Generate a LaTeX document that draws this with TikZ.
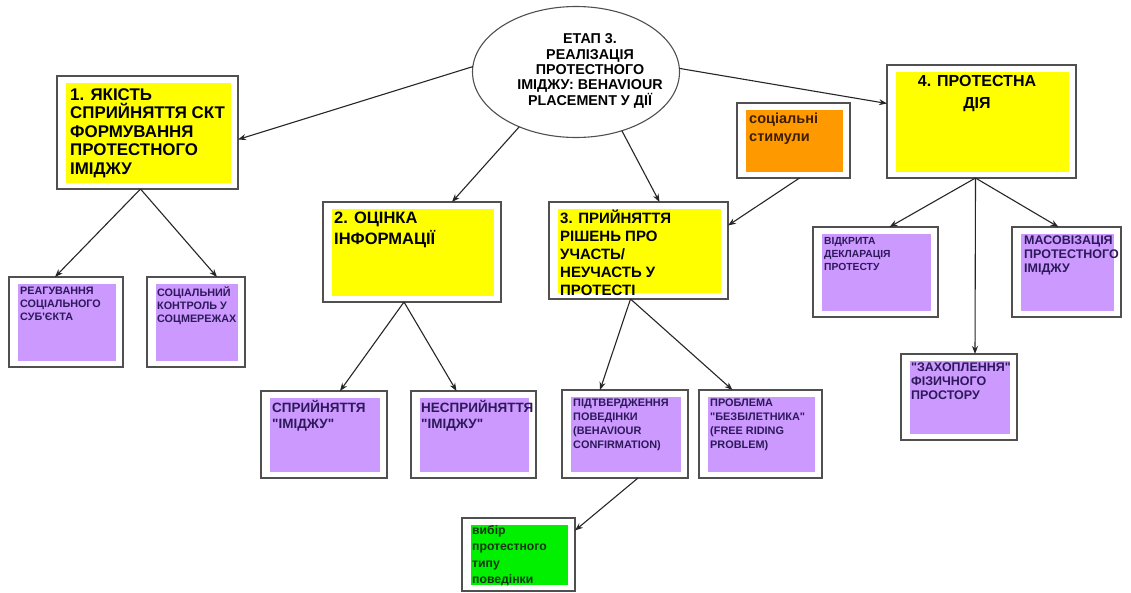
\documentclass[tikz,border=0pt]{standalone}
\usepackage{fontspec}
\setmainfont{Liberation Sans}[Ligatures=TeXOff]
\usetikzlibrary{shapes.geometric,arrows.meta,calc}
\definecolor{boxgray}{RGB}{80,80,80}
\definecolor{yel}{RGB}{255,255,0}
\definecolor{lav}{RGB}{204,153,255}
\definecolor{org}{RGB}{255,153,0}
\definecolor{grn}{RGB}{0,240,0}
\definecolor{ptxt}{RGB}{45,25,90}
\definecolor{otxt}{RGB}{60,30,0}
\definecolor{gtxt}{RGB}{20,50,20}
\newcommand\qq{\char34\relax}
\newcommand\ap{\char39\relax}
\tikzset{
  outerbox/.style={draw=boxgray, line width=1.4pt, fill=white, inner sep=0pt, outer sep=0pt, rectangle},
  txt/.style={anchor=north west, align=left, inner sep=0pt},
  t16/.style={font=\fontsize{16.9}{18.6}\selectfont\bfseries},
  t165/.style={font=\fontsize{16.5}{21}\selectfont\bfseries},
  t15/.style={font=\fontsize{15}{18}\selectfont\bfseries},
  tfour/.style={font=\fontsize{16}{22}\selectfont\bfseries, anchor=north, align=center},
  tstim/.style={font=\fontsize{14.5}{17.5}\selectfont\bfseries, text=otxt},
  tgrn/.style={font=\fontsize{12.2}{16.5}\selectfont\bfseries, text=gtxt},
  tp11/.style={font=\fontsize{10.8}{13}\selectfont\bfseries, text=ptxt},
  tp12/.style={font=\fontsize{12.5}{13.8}\selectfont\bfseries, text=ptxt},
  tp13/.style={font=\fontsize{13.5}{16}\selectfont\bfseries, text=ptxt},
  tp10/.style={font=\fontsize{10.3}{13}\selectfont\bfseries, text=ptxt},
  tq/.style={font=\fontsize{10.9}{14}\selectfont\bfseries, text=ptxt},
  arr/.style={draw=black!85, line width=1.1pt, -{Stealth[length=8pt,width=6pt]}},
  ell/.style={ellipse, draw=boxgray, line width=1.1pt, fill=white, minimum width=207pt, minimum height=131pt, inner sep=0pt, outer sep=0pt},
}
\newcommand\mkbox[9]{%
  \node[outerbox, minimum width={(#4-#2)*1pt}, minimum height={(#5-#3)*1pt}] (#1) at ({(#2+#4)/2},{(#3+#5)/2}) {};
  \fill[#6] (#2+9,#3+7) rectangle (#4-7,#5-6);
  \node[txt, #7] (#1t) at #8 {#9};
}
\begin{document}
\begin{tikzpicture}[x=1pt, y=-1pt]
\useasboundingbox (0,0) rectangle (1131,592);
\fill[white] (0,0) rectangle (1131,592);

\node[ell] (ell) at (576,72) {};
\node[font=\fontsize{14.3}{15.4}\selectfont\bfseries, align=center, inner sep=0pt] (ellt) at (590,71)
  {ЕТАП 3.\\РЕАЛІЗАЦІЯ\\ПРОТЕСТНОГО\\ІМІДЖУ: BEHAVIOUR\\PLACEMENT У ДІЇ};

\mkbox{b1}{57}{76}{238}{189}{yel}{t16}{(70,88)}{1. ЯКІСТЬ\\СПРИЙНЯТТЯ СКТ\\ФОРМУВАННЯ\\ПРОТЕСТНОГО\\ІМІДЖУ}
\mkbox{r1}{9}{277}{123}{367}{lav}{tp11}{(20,287)}{РЕАГУВАННЯ\\СОЦІАЛЬНОГО\\СУБ\ap ЄКТА}
\mkbox{r2}{147}{277}{245}{367}{lav}{tp11}{(157,287)}{СОЦІАЛЬНИЙ\\КОНТРОЛЬ У\\СОЦМЕРЕЖАХ}
\mkbox{b2}{323}{202}{501}{302}{yel}{t165}{(334,212)}{2. ОЦІНКА\\ІНФОРМАЦІЇ}
\mkbox{p1}{261}{391}{387}{478}{lav}{tp13}{(272,400)}{СПРИЙНЯТТЯ\\\qq ІМІДЖУ\qq}
\mkbox{p2}{411}{391}{536}{478}{lav}{tp13}{(421,400)}{НЕСПРИЙНЯТТЯ\\\qq ІМІДЖУ\qq}
\mkbox{b3}{549}{202}{728}{299}{yel}{t15}{(560,210)}{3. ПРИЙНЯТТЯ\\РІШЕНЬ ПРО\\УЧАСТЬ/\\НЕУЧАСТЬ У\\ПРОТЕСТІ}
\mkbox{stim}{737}{103}{850}{178}{org}{tstim}{(749,113)}{соціальні\\стимули}
\mkbox{q1}{562}{390}{688}{478}{lav}{tq}{(573,399)}{ПІДТВЕРДЖЕННЯ\\ПОВЕДІНКИ\\(BEHAVIOUR\\CONFIRMATION)}
\mkbox{q2}{699}{390}{822}{478}{lav}{tq}{(710,399)}{ПРОБЛЕМА\\\qq БЕЗБІЛЕТНИКА\qq\\(FREE RIDING\\PROBLEM)}
\mkbox{g}{462}{518}{575}{591}{grn}{tgrn}{(472,525)}{вибір\\протестного\\типу\\поведінки}
\mkbox{b4}{887}{65}{1076}{178}{yel}{tfour}{(977,75)}{4. ПРОТЕСТНА\\ДІЯ}
\mkbox{d1}{813}{227}{938}{317}{lav}{tp10}{(824,237)}{ВІДКРИТА\\ДЕКЛАРАЦІЯ\\ПРОТЕСТУ}
\mkbox{d2}{1012}{227}{1121}{317}{lav}{tp12}{(1024,236)}{МАСОВІЗАЦІЯ\\ПРОТЕСТНОГО\\ІМІДЖУ}
\mkbox{d3}{901}{354}{1017}{440}{lav}{tp12}{(911,363)}{\qq ЗАХОПЛЕННЯ\qq\\ФІЗИЧНОГО\\ПРОСТОРУ}

% connectors
\draw[arr] (ell.177) -- ([yshift=-7pt]b1.east);
\draw[arr] (ell.224) -- ([xshift=40pt]b2.north);
\draw[arr] (ell.308) -- ([xshift=21pt]b3.north);
\draw[arr] (ell.2) -- ([yshift=18pt]b4.west);
\draw[arr] ([xshift=-7pt]b1.south) -- ([xshift=-11pt]r1.north);
\draw[arr] ([xshift=-7pt]b1.south) -- ([xshift=21pt]r2.north);
\draw[arr] ([xshift=-8pt]b2.south) -- ([xshift=16pt]p1.north);
\draw[arr] ([xshift=-8pt]b2.south) -- ([xshift=-17pt]p2.north);
\draw[arr] ([xshift=-8pt]b3.south) -- ([xshift=-25pt]q1.north);
\draw[arr] ([xshift=-8pt]b3.south) -- ([xshift=-28pt]q2.north);
\draw[arr] ([xshift=6pt]stim.south) -- ([yshift=25pt]b3.east);
\draw[arr] ([xshift=-6pt]b4.south) -- ([xshift=14pt]d1.north);
\draw[arr] ([xshift=-6pt]b4.south) -- ([xshift=-8pt]d2.north);
\draw[arr] ([xshift=-6pt]b4.south) -- ([xshift=16pt]d3.north);
\draw[arr] ([xshift=13pt]q1.south) -- ([yshift=24pt]g.east);
\end{tikzpicture}
\end{document}
